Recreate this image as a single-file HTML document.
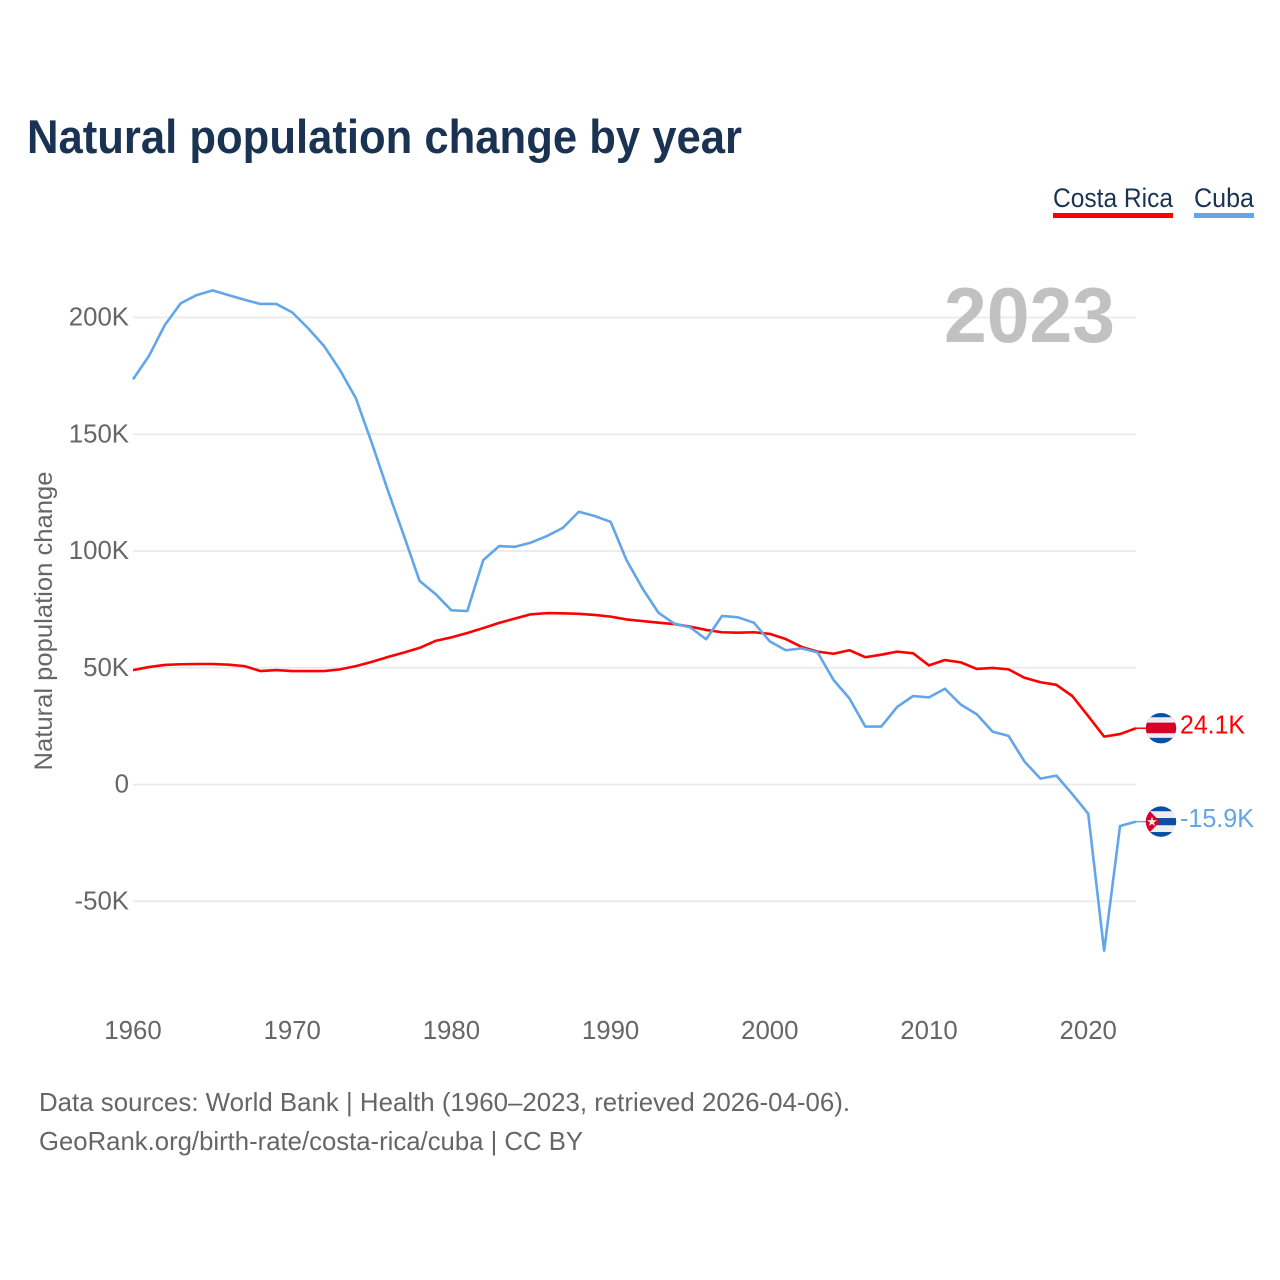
<!DOCTYPE html>
<html lang="en">
<head>
<meta charset="utf-8">
<title>Natural population change by year</title>
<style>
html,body{margin:0;padding:0;background:#fff;width:1280px;height:1280px;overflow:hidden}
svg{display:block}
text{font-family:"Liberation Sans",sans-serif}
</style>
</head>
<body>
<svg id="chart" xmlns="http://www.w3.org/2000/svg" width="1280" height="1280" viewBox="0 0 1280 1280">
  <rect x="0" y="0" width="1280" height="1280" fill="#ffffff"/>
  <text x="27" y="153" font-size="47" font-weight="700" fill="#1a3353" textLength="715" lengthAdjust="spacingAndGlyphs">Natural population change by year</text>
  <g>
    <g>
      <text x="1053" y="207" font-size="26.5" fill="#1a3353" textLength="120" lengthAdjust="spacingAndGlyphs">Costa Rica</text>
      <rect x="1053" y="213" width="120" height="5" fill="#ff0000"/>
    </g>
    <g>
      <text x="1194" y="207" font-size="26.5" fill="#1a3353" textLength="60" lengthAdjust="spacingAndGlyphs">Cuba</text>
      <rect x="1194" y="213" width="60" height="5" fill="#62a6ea"/>
    </g>
  </g>
  <text transform="translate(52,621) rotate(-90)" text-anchor="middle" font-size="25" fill="#666666" textLength="299" lengthAdjust="spacingAndGlyphs">Natural population change</text>
  <g id="grid"></g>
  <g id="y-labels"></g>
  <g id="x-labels"></g>
  <text x="944" y="342" font-size="78" font-weight="700" fill="#c1c1c1" textLength="171" lengthAdjust="spacingAndGlyphs">2023</text>
  <g id="series"></g>
  <g id="flag-cr"></g>
  <g id="flag-cu"></g>
  <g id="end-labels"></g>
  <g>
    <text x="39" y="1111" font-size="26" fill="#666666" textLength="811" lengthAdjust="spacingAndGlyphs">Data sources: World Bank | Health (1960–2023, retrieved 2026-04-06).</text>
    <text x="39" y="1150" font-size="26" fill="#666666" textLength="544" lengthAdjust="spacingAndGlyphs">GeoRank.org/birth-rate/costa-rica/cuba | CC BY</text>
  </g>
</svg>
<script>
const firstYear = 1960;
const costaRicaValues = [
  49.0,50.3,51.2,51.5,51.6,51.6,51.3,50.7,48.6,49.0,
  48.6,48.6,48.6,49.3,50.7,52.5,54.6,56.5,58.5,61.5,
  63.0,64.9,67.0,69.2,71.1,72.9,73.4,73.3,73.1,72.6,
  71.9,70.7,70.0,69.3,68.7,67.6,66.2,65.2,65.0,65.2,
  64.5,62.3,58.9,56.9,56.0,57.5,54.5,55.6,56.9,56.2,
  51.0,53.3,52.3,49.5,49.9,49.3,45.7,43.8,42.7,37.9,
  29.3,20.5,21.6,24.1
];
const cubaValues = [
  173.5,183.5,196.8,206.1,209.6,211.6,209.6,207.6,205.8,205.8,
  202.2,195.4,187.8,177.5,165.4,146.3,126.1,106.9,87.2,81.6,
  74.6,74.3,96.1,102.1,101.8,103.6,106.4,109.9,116.8,115.0,
  112.5,96.1,84.0,73.6,68.9,67.3,62.2,72.2,71.6,69.3,
  61.3,57.5,58.3,56.6,44.8,36.9,24.8,24.8,33.2,37.9,
  37.3,41.0,34.2,30.1,22.6,20.8,9.8,2.5,3.8,-4.1,
  -12.5,-71.2,-17.8,-15.9
];
const yTickValues = [-50,0,50,100,150,200];
const yTickLabels = ["-50K","0","50K","100K","150K","200K"];
const xTickYears = [1960,1970,1980,1990,2000,2010,2020];
const costaRicaEndLabel = "24.1K";
const cubaEndLabel = "-15.9K";

const NS = "http://www.w3.org/2000/svg";
function xScale(year){ return 133 + (year - 1960) * 15.92; }
function yScale(v){ return 784.5 - v * 2.335; }
function make(tag, parent, attrs, text){
  const el = document.createElementNS(NS, tag);
  for (const k in attrs) el.setAttribute(k, attrs[k]);
  if (text !== undefined) el.textContent = text;
  parent.appendChild(el);
  return el;
}

const gridG = document.getElementById("grid");
const yLabG = document.getElementById("y-labels");
yTickValues.forEach(function(v,i){
  const line = make("line", gridG, {x1:133, x2:1136, y1:yScale(v), y2:yScale(v), stroke:"#eaeaea", "stroke-width":1.8});
  
  
  const t = make("text", yLabG, {x:129, y:yScale(v)+8, "text-anchor":"end", "font-size":25.8, fill:"#666666"}, yTickLabels[i]);
  
  
});

const xLabG = document.getElementById("x-labels");
xTickYears.forEach(function(yr){
  const t = make("text", xLabG, {x:xScale(yr), y:1039, "text-anchor":"middle", "font-size":25.8, fill:"#666666"}, String(yr));
  
  
});

function linePoints(values){
  return values.map(function(v,i){ return xScale(firstYear+i).toFixed(2)+","+yScale(v).toFixed(2); }).join(" ");
}
const seriesG = document.getElementById("series");
const crLine = make("polyline", seriesG, {points:linePoints(costaRicaValues), fill:"none", stroke:"#ff0000", "stroke-width":2.6, "stroke-linejoin":"round"});


const cuLine = make("polyline", seriesG, {points:linePoints(cubaValues), fill:"none", stroke:"#62a6ea", "stroke-width":2.6, "stroke-linejoin":"round"});



const lastIndex = costaRicaValues.length - 1;
const lastX = xScale(firstYear + lastIndex);
const crY = yScale(costaRicaValues[lastIndex]);
const cuY = yScale(cubaValues[lastIndex]);

const crConn = make("line", seriesG, {x1:lastX, x2:1147, y1:crY, y2:crY, stroke:"#ff0000", "stroke-width":1.5});


const cuConn = make("line", seriesG, {x1:lastX, x2:1147, y1:cuY, y2:cuY, stroke:"#62a6ea", "stroke-width":1.5});



function addClip(id, cy){
  const cp = make("clipPath", document.getElementById("chart"), {id:id});
  make("circle", cp, {cx:1161, cy:cy, r:15.2});
}
addClip("clip-cr", crY);
addClip("clip-cu", cuY);

const fcr = document.getElementById("flag-cr");
fcr.setAttribute("clip-path", "url(#clip-cr)");
make("rect", fcr, {x:1145, y:crY-16.5, width:32, height:32, fill:"#0a4ea8"});
make("rect", fcr, {x:1145, y:crY-11, width:32, height:20.6, fill:"#eeeeee"});
make("rect", fcr, {x:1145, y:crY-5.6, width:32, height:10.6, fill:"#d80027"});

const fcu = document.getElementById("flag-cu");
fcu.setAttribute("clip-path", "url(#clip-cu)");
make("rect", fcu, {x:1145, y:cuY-16, width:32, height:32, fill:"#eeeeee"});
make("rect", fcu, {x:1145, y:cuY-16, width:32, height:5.6, fill:"#0a4ea8"});
make("rect", fcu, {x:1145, y:cuY-3.6, width:32, height:7.2, fill:"#0a4ea8"});
make("rect", fcu, {x:1145, y:cuY+10.4, width:32, height:5.6, fill:"#0a4ea8"});
make("polygon", fcu, {points:(1145)+","+(cuY-15.5)+" "+(1160)+","+cuY+" "+(1145)+","+(cuY+15.5), fill:"#d80027"});
make("text", fcu, {x:1152, y:cuY+4.5, "text-anchor":"middle", "font-size":13, fill:"#eeeeee"}, "★");

const endG = document.getElementById("end-labels");
const crLab = make("text", endG, {x:1180, y:crY+5.5, "font-size":25.5, fill:"#ff0000", textLength:65, lengthAdjust:"spacingAndGlyphs"}, costaRicaEndLabel);


const cuLab = make("text", endG, {x:1180, y:cuY+5.5, "font-size":25.5, fill:"#62a6ea", textLength:74, lengthAdjust:"spacingAndGlyphs"}, cubaEndLabel);


</script>
</body>
</html>
